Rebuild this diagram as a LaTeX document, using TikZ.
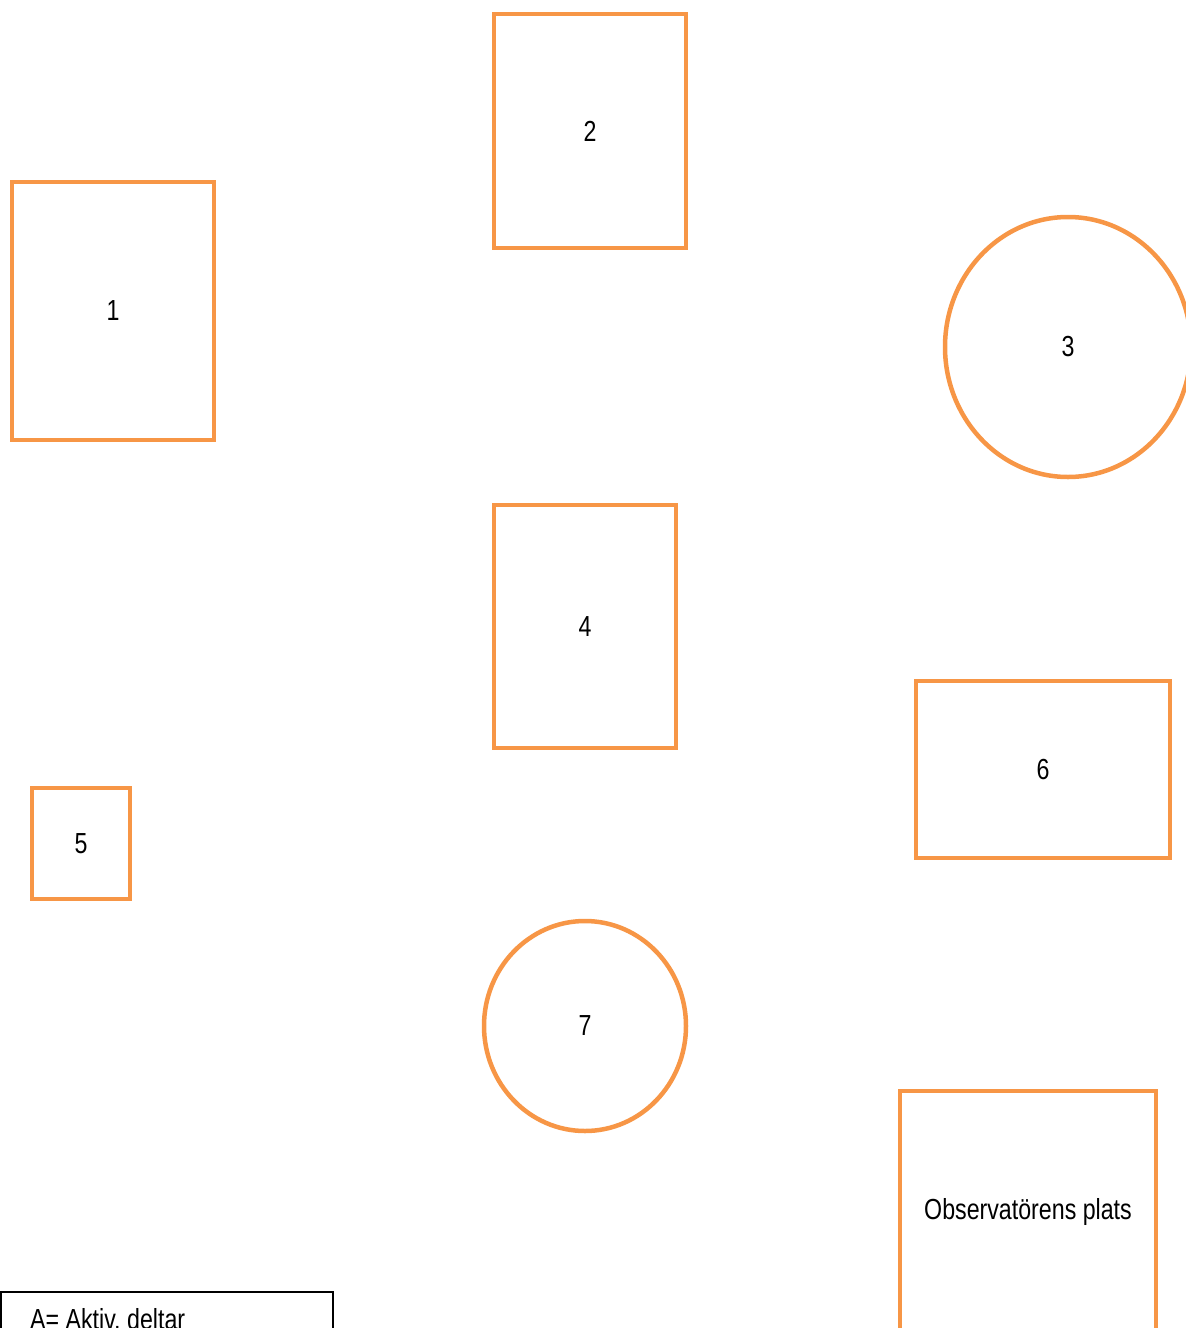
\documentclass[tikz,border=0pt]{standalone}
\usepackage{fontspec}
\setmainfont[FakeStretch=0.8]{Liberation Sans}
\usetikzlibrary{shapes.geometric}
\definecolor{orng}{HTML}{F79646}
\begin{document}
\begin{tikzpicture}[x=1pt,y=-1pt,
  box/.style={draw=orng,line width=4.5pt,rectangle,inner sep=0pt,font=\fontsize{29}{34}\selectfont},
  oval/.style={draw=orng,line width=4.5pt,ellipse,inner sep=0pt,font=\fontsize{29}{34}\selectfont},
  lbl/.style={font=\fontsize{29}{34}\selectfont,inner sep=0pt}]
\useasboundingbox (0,0) rectangle (1186,1328);
\clip (0,0) rectangle (1186,1328);
\node[box,minimum width=202pt,minimum height=258pt] (n1) at (113,311) {1};
\node[box,minimum width=192pt,minimum height=234pt] (n2) at (590,131) {2};
\node[oval,minimum width=246pt,minimum height=260pt] (n3) at (1068,347) {3};
\node[box,minimum width=182pt,minimum height=243pt] (n4) at (585,626.5) {4};
\node[box,minimum width=98pt,minimum height=111pt] (n5) at (81,843.5) {5};
\node[box,minimum width=254pt,minimum height=177pt] (n6) at (1043,769.5) {6};
\node[oval,minimum width=202pt,minimum height=210pt] (n7) at (585,1026) {7};
\node[box,minimum width=256pt,minimum height=242pt] (obs) at (1028,1212) {Observatörens plats};
\node[draw=black,line width=1.5pt,rectangle,inner sep=0pt,minimum width=332pt,minimum height=110pt,anchor=north west] (leg) at (0,1291) {};
\node[lbl,anchor=base west] (legtxt) at (30,1329) {A= Aktiv, deltar};
\end{tikzpicture}
\end{document}
